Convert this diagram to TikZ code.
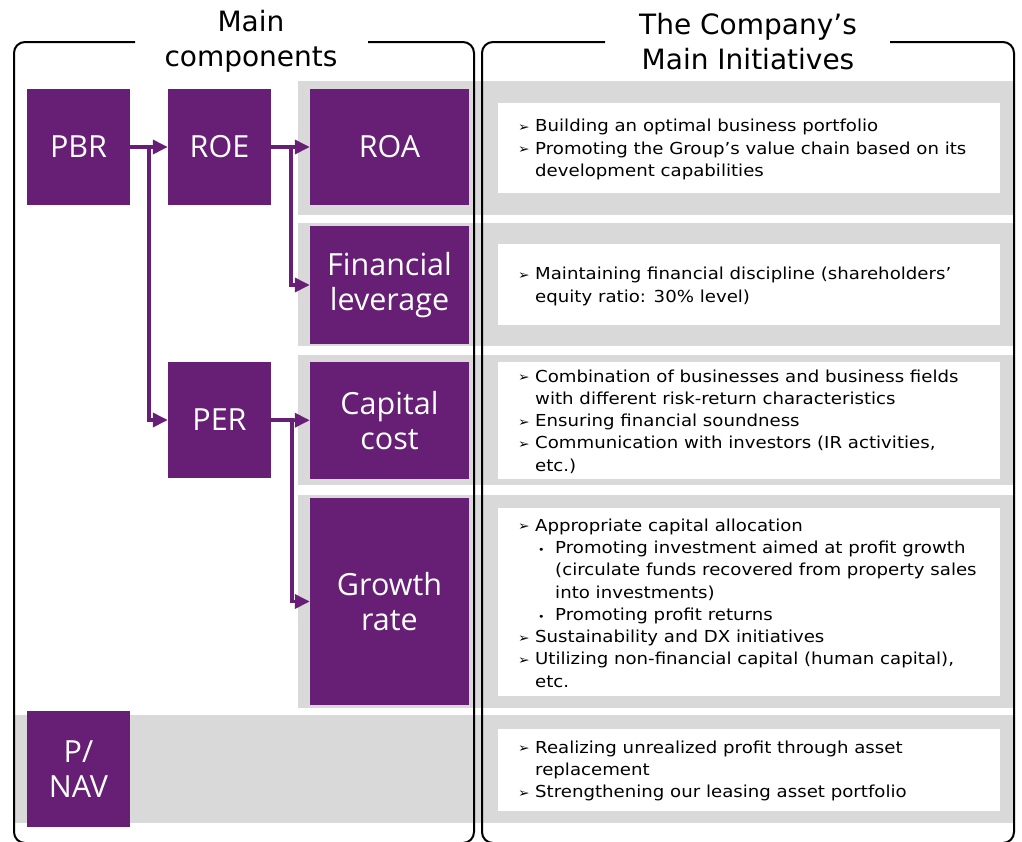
\documentclass[tikz,border=0pt]{standalone}
\usepackage{fontspec}
\setmainfont{DejaVu Sans}
\newfontfamily\boxfont{Open Sans}
\newfontfamily\notefont[FakeStretch=1.1]{DejaVu Sans}
\usetikzlibrary{arrows.meta}
\definecolor{kpurple}{RGB}{103,30,117}
\definecolor{kgray}{RGB}{217,217,217}
\newcommand{\arrmark}{\makebox[17pt][l]{\raisebox{0.5pt}{\fontsize{12.5}{12.5}\selectfont ➢}}}
\newcommand{\subdot}{\hspace*{20pt}\makebox[17pt][l]{\fontsize{10}{10}\selectfont •}}
\newcommand{\hang}{\hspace*{17pt}}
\newcommand{\subhang}{\hspace*{37pt}}
\tikzset{
    >={Triangle[length=15pt,width=14pt]},
    metric/.style={fill=kpurple, text=white, font=\boxfont\fontsize{30.5}{35}\selectfont,
        align=center, inner sep=0pt, minimum width=103pt, minimum height=116pt},
    widemetric/.style={metric, minimum width=159pt},
    band/.style={fill=kgray, draw=none},
    panel/.style={fill=white, draw=none},
    frame/.style={line width=2pt, draw=black, rounded corners=11pt},
    link/.style={draw=kpurple, line width=3.5pt, ->},
    heading/.style={font=\fontsize{28}{35}\selectfont, align=center, inner sep=0pt},
    note/.style={font=\notefont\fontsize{16.5}{22.3}\selectfont, align=left, anchor=west, inner sep=0pt}
}

\begin{document}
\begin{tikzpicture}[x=1pt, y=-1pt]
    \useasboundingbox (0,0) rectangle (1022,841);
    \clip (0,0) rectangle (1022,841);

    % =========================================================================
    % BACKGROUND BANDS AND WHITE PANELS
    % =========================================================================
    \fill[band] (298,81) rectangle (1014,215);
    \fill[band] (298,223) rectangle (1014,346);
    \fill[band] (298,355) rectangle (1014,485);
    \fill[band] (298,495) rectangle (1014,708);
    \fill[band] (14,715) rectangle (1014,823);

    \fill[panel] (498,103) rectangle (1000,193);
    \fill[panel] (498,244) rectangle (1000,325);
    \fill[panel] (498,362) rectangle (1000,479);
    \fill[panel] (498,508) rectangle (1000,696);
    \fill[panel] (498,729) rectangle (1000,811);

    % =========================================================================
    % FRAMES WITH HEADINGS
    % =========================================================================
    \draw[frame] (135,42) -| (14,843) -| (474,42) -- (368,42);
    \draw[frame] (605,42) -| (482,843) -| (1014,42) -- (890,42);

    \node[heading] (leftHead) at (251,41.5) {Main\\components};
    \node[heading] (rightHead) at (748,41.5) {The Company’s\\Main Initiatives};

    % =========================================================================
    % MAIN COMPONENTS (purple boxes)
    % =========================================================================
    \node[metric] (pbr) at (78.5,147) {PBR};
    \node[metric] (roe) at (219.5,147) {ROE};
    \node[widemetric] (roa) at (389.5,147) {ROA};
    \node[widemetric, minimum height=118pt] (lev) at (389.5,285) {Financial\\leverage};
    \node[metric] (per) at (219.5,420) {PER};
    \node[widemetric, minimum height=117pt] (cost) at (389.5,420.5) {Capital\\cost};
    \node[widemetric, minimum height=207pt] (growth) at (389.5,601.5) {Growth\\rate};
    \node[metric] (pnav) at (78.5,769) {P/\\NAV};

    % Connectors
    \draw[link] (pbr) -- (roe);
    \draw[link] (pbr.east) -- ++(19,0) |- (per.west);
    \draw[link] (roe) -- (roa);
    \draw[link] (roe.east) -- ++(20,0) |- (lev.west);
    \draw[link] (per) -- (cost);
    \draw[link] (per.east) -- ++(21,0) |- (growth.west);

    % =========================================================================
    % MAIN INITIATIVES (text in white panels)
    % =========================================================================
    \node[note] (txtRoa) at (518,149.5) {%
        \arrmark Building an optimal business portfolio\\
        \arrmark Promoting the Group’s value chain based on its\\
        \hang development capabilities};

    \node[note] (txtLev) at (518,286.5) {%
        \arrmark Maintaining financial discipline (shareholders’\\
        \hang equity ratio: 30\% level)};

    \node[note] (txtCost) at (518,421.5) {%
        \arrmark Combination of businesses and business fields\\
        \hang with different risk-return characteristics\\
        \arrmark Ensuring financial soundness\\
        \arrmark Communication with investors (IR activities,\\
        \hang etc.)};

    \node[note] (txtGrowth) at (518,603) {%
        \arrmark Appropriate capital allocation\\
        \subdot Promoting investment aimed at profit growth\\
        \subhang (circulate funds recovered from property sales\\
        \subhang into investments)\\
        \subdot Promoting profit returns\\
        \arrmark Sustainability and DX initiatives\\
        \arrmark Utilizing non-financial capital (human capital),\\
        \hang etc.};

    \node[note] (txtPnav) at (518,771) {%
        \arrmark Realizing unrealized profit through asset\\
        \hang replacement\\
        \arrmark Strengthening our leasing asset portfolio};
\end{tikzpicture}
\end{document}
